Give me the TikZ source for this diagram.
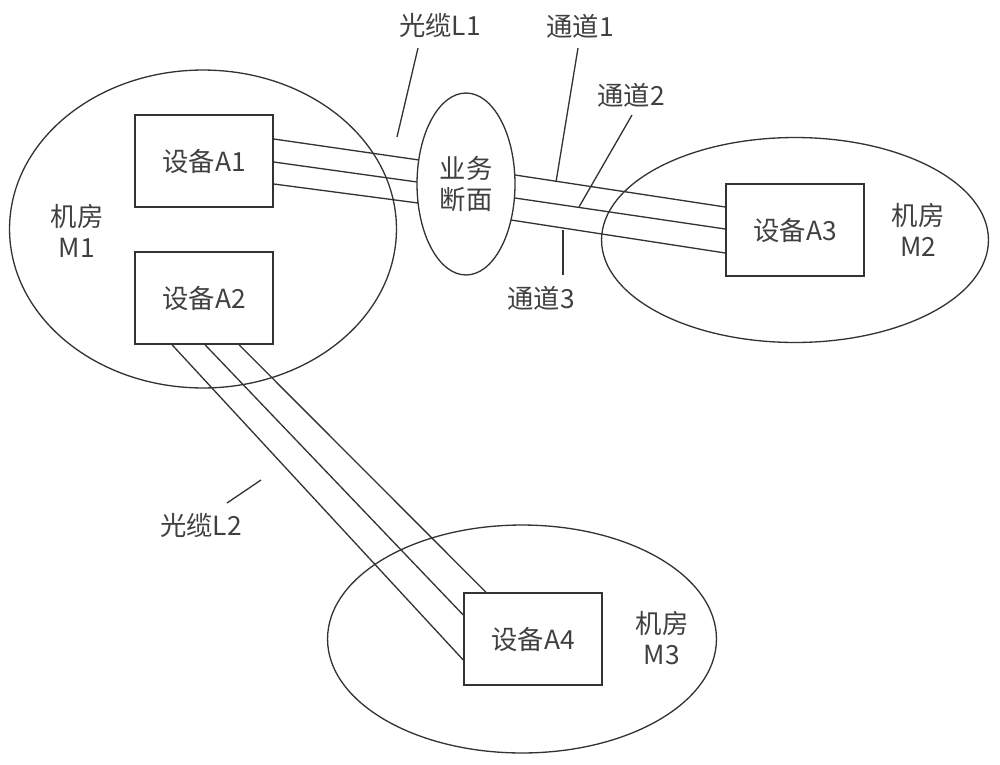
\documentclass[tikz,border=0pt]{standalone}
\usepackage{fontspec}
\newfontfamily\cjk{Noto Sans CJK SC}
\usetikzlibrary{shapes.geometric,calc}

\tikzset{
  room/.style={draw=black!80,ellipse,line width=0.75pt,inner sep=0pt},
  dev/.style={draw=black!80,line width=0.85pt,minimum width=2.76cm,minimum height=1.84cm,
              font=\cjk\fontsize{15}{18}\selectfont,text=black!75},
  lbl/.style={align=center,font=\cjk\fontsize{15}{18}\selectfont,text=black!75,inner sep=0pt},
  fiber/.style={draw=black!80,line width=0.75pt},
  tick/.style={draw=black!80,line width=0.75pt},
}

\begin{document}
\begin{tikzpicture}[x=0.02cm,y=-0.02cm]
  \useasboundingbox (0,0) rectangle (1000,764);

  % rooms
  \node[room,minimum width=7.74cm,minimum height=6.36cm] (M1) at (203,229) {};
  \node[room,minimum width=7.74cm,minimum height=4.10cm] (M2) at (795,240) {};
  \node[room,minimum width=7.78cm,minimum height=4.56cm] (M3) at (522,639) {};
  \node[room,lbl,minimum width=1.96cm,minimum height=3.64cm] (YW) at (466,184) {业务\\断面};

  \node[lbl] (R1) at (77,231)  {机房\\M1};
  \node[lbl] (R2) at (918,230) {机房\\M2};
  \node[lbl] (R3) at (662,638) {机房\\M3};

  % devices
  \node[dev] (A1) at (204,161) {设备A1};
  \node[dev] (A2) at (204,298) {设备A2};
  \node[dev] (A3) at (795,230) {设备A3};
  \node[dev] (A4) at (533,639) {设备A4};

  % cable L1: A1 -> section -> A3
  \draw[fiber] ($(A1.east)+(0,-22)$) -- ($(YW.center)+(-47,-24)$);
  \draw[fiber] ($(A1.east)+(0,1)$)   -- ($(YW.center)+(-49,-2)$);
  \draw[fiber] ($(A1.east)+(0,23)$)  -- ($(YW.center)+(-48,19)$);

  \draw[fiber] ($(YW.center)+(49,-9)$) -- ($(A3.west)+(0,-23)$);
  \draw[fiber] ($(YW.center)+(49,14)$) -- ($(A3.west)+(0,-1)$);
  \draw[fiber] ($(YW.center)+(45,36)$) -- ($(A3.west)+(0,23)$);

  % cable L2: A2 -> A4
  \draw[fiber] ($(A2.south)+(-32,0)$) -- ($(A4.west)+(0,21)$);
  \draw[fiber] ($(A2.south)+(1,0)$)   -- ($(A4.west)+(0,-24)$);
  \draw[fiber] ($(A2.south)+(35,0)$)  -- ($(A4.north)+(-47,0)$);

  % labels
  \node[lbl] (L1) at (440,25)  {光缆L1};
  \node[lbl] (C1) at (580,26)  {通道1};
  \node[lbl] (C2) at (631,95)  {通道2};
  \node[lbl] (C3) at (541,298) {通道3};
  \node[lbl] (L2) at (201,525) {光缆L2};

  \coordinate (L1a) at (418,48);  \coordinate (L1b) at (397,137);
  \coordinate (C1a) at (578,48);  \coordinate (C1b) at (556,182);
  \coordinate (C2a) at (632,115); \coordinate (C2b) at (579,207);
  \coordinate (C3a) at (563,275); \coordinate (C3b) at (563,230);
  \coordinate (L2a) at (227,503); \coordinate (L2b) at (261,480);

  \draw[tick] (L1a) -- (L1b);
  \draw[tick] (C1a) -- (C1b);
  \draw[tick] (C2a) -- (C2b);
  \draw[tick] (C3a) -- (C3b);
  \draw[tick] (L2a) -- (L2b);

\end{tikzpicture}
\end{document}
